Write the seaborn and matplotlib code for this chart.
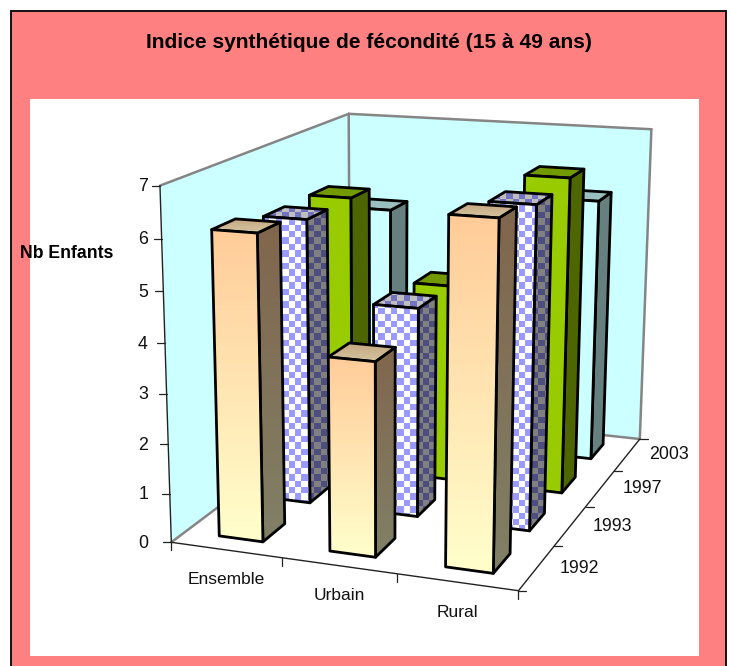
import numpy as np
import matplotlib
matplotlib.use("Agg")
import matplotlib.pyplot as plt
from matplotlib.patches import Polygon
import seaborn as sns

CATEGORIES = ["Ensemble", "Urbain", "Rural"]
YEARS = ["1992", "1993", "1997", "2003"]
VAL_1992 = [6.1, 3.85, 6.7]
VAL_1993 = [5.9, 4.3, 6.5]
VAL_1997 = [5.9, 4.2, 6.6]
VAL_2003 = [5.2, 3.7, 5.7]
Z_TICKS = [0, 1, 2, 3, 4, 5, 6, 7]

W, H = 730, 666
BAR_X = (0.31, 0.71)
BAR_Y = (0.27, 0.72)

# scene point -> pixel pairs used to fit the camera
CALIB = [
    ((0, 0, 0), (172, 543)), ((1, 0, 0), (282, 558)), ((2, 0, 0), (397, 574)), ((3, 0, 0), (518, 591)),
    ((3, 1, 0), (553, 547)), ((3, 2, 0), (586, 506)), ((3, 3, 0), (614.5, 471)), ((3, 4, 0), (641, 438)),
    ((0, 4, 0), (348, 408)), ((0, 4, 7), (350, 114)), ((3, 4, 7), (651, 130)),
    ((0, 0, 1), (171, 493)), ((0, 0, 2), (169, 444)), ((0, 0, 3), (167, 394)), ((0, 0, 4), (165, 343)),
    ((0, 0, 5), (163, 292)), ((0, 0, 6), (161, 238)), ((0, 0, 7), (159, 185)),
]


def fit_camera(calib):
    rows, rhs = [], []
    for (x, y, z), (u, v) in calib:
        rows.append([x, y, z, 1, 0, 0, 0, 0, -u*x, -u*y, -u*z]); rhs.append(u)
        rows.append([0, 0, 0, 0, x, y, z, 1, -v*x, -v*y, -v*z]); rhs.append(v)
    p = np.linalg.lstsq(np.array(rows, float), np.array(rhs, float), rcond=None)[0]
    return np.append(p, 1).reshape(3, 4)


CAM = fit_camera(CALIB)


def proj(x, y, z):
    h = CAM @ np.array([x, y, z, 1.0])
    return h[0]/h[2], h[1]/h[2]


sns.set_theme(style="white")
plt.rcParams["font.family"] = ["Liberation Sans", "DejaVu Sans"]

fig = plt.figure(figsize=(W/100, H/100), dpi=100, facecolor="white")
ax = fig.add_axes([0, 0, 1, 1])
ax.set_axis_off()
ax.set_xlim(0, W)
ax.set_ylim(H, 0)

z_order = [10]


def next_z():
    z_order[0] += 1
    return z_order[0]


def gradient(c_top, c_bottom):
    return np.array(sns.blend_palette([c_top, c_bottom], n_colors=64))[:, None, :]


def checker(c1, c2, cell=6.4):
    yy, xx = np.mgrid[0:H, 0:W]
    mask = ((xx // cell + yy // cell) % 2 == 0)[..., None]
    a = np.array(matplotlib.colors.to_rgb(c1))
    b = np.array(matplotlib.colors.to_rgb(c2))
    return np.where(mask, a, b)


def face(pts, fill):
    """Paint a polygon with a flat colour, a vertical gradient or the checker, then outline it."""
    pts = np.array(pts)
    zo = next_z()
    if isinstance(fill, str):
        ax.add_patch(Polygon(pts, closed=True, facecolor=fill, edgecolor="none", zorder=zo))
    else:
        if fill.shape[0] == H:
            extent = (0, W, H, 0)
        else:
            extent = (pts[:, 0].min(), pts[:, 0].max(), pts[:, 1].max(), pts[:, 1].min())
        im = ax.imshow(fill, extent=extent, origin="upper", aspect="auto",
                       interpolation="nearest" if fill.shape[0] == H else "bilinear", zorder=zo)
        clip = Polygon(pts, closed=True, transform=ax.transData)
        im.set_clip_path(clip)
    ax.add_patch(Polygon(pts, closed=True, facecolor="none", edgecolor="black",
                         linewidth=2.0, joinstyle="round", zorder=next_z()))


STYLES = {
    "1992": dict(front=gradient("#FFCC99", "#FFFFCC"), side=gradient("#80664D", "#808066"),
                 top=gradient("#C6A67F", "#D3C6A2")),
    "1993": dict(front=checker("#FFFFFF", "#9999FF"), side=checker("#808080", "#4D4D80"),
                 top=checker("#BFBFBF", "#7373BF")),
    "1997": dict(front="#99CC00", side="#4D6600", top="#739900"),
    "2003": dict(front="#CCFFFF", side="#668080", top="#99BFBF"),
}
SERIES = [VAL_1992, VAL_1993, VAL_1997, VAL_2003]

# frame and plot background
ax.add_patch(Polygon([(11, H+5), (11, 11), (726, 11), (726, H+5)], closed=True,
                     facecolor="#FF8080", edgecolor="#111111", linewidth=1.4, zorder=1))
ax.add_patch(Polygon([(30, 99), (699, 99), (699, 656), (30, 656)], closed=True,
                     facecolor="white", edgecolor="none", zorder=2))

# walls and floor
zmax = Z_TICKS[-1]
nx, ny = len(CATEGORIES), len(YEARS)
ax.add_patch(Polygon([proj(0, 0, 0), proj(0, ny, 0), proj(0, ny, zmax), proj(0, 0, zmax)], closed=True,
                     facecolor="#CCFFFF", edgecolor="none", zorder=3))
ax.add_patch(Polygon([proj(0, ny, 0), proj(nx, ny, 0), proj(nx, ny, zmax), proj(0, ny, zmax)], closed=True,
                     facecolor="#CCFFFF", edgecolor="none", zorder=3))
for a, b in [((0, 0, zmax), (0, ny, zmax)), ((0, ny, zmax), (nx, ny, zmax)), ((0, ny, 0), (0, ny, zmax)),
             ((nx, ny, 0), (nx, ny, zmax)), ((0, 0, 0), (0, ny, 0)), ((0, ny, 0), (nx, ny, 0))]:
    pa, pb = proj(*a), proj(*b)
    ax.plot([pa[0], pb[0]], [pa[1], pb[1]], color="#858585", lw=1.8, zorder=4, solid_capstyle="round")

# front axes
for a, b in [((0, 0, 0), (0, 0, zmax)), ((0, 0, 0), (nx, 0, 0)), ((nx, 0, 0), (nx, ny, 0))]:
    pa, pb = proj(*a), proj(*b)
    ax.plot([pa[0], pb[0]], [pa[1], pb[1]], color="#222222", lw=1.0, zorder=5)

for z in Z_TICKS:
    px, py = proj(0, 0, z)
    ax.plot([px-8, px], [py, py], color="#222222", lw=0.9, zorder=5)
    ax.text(148, py+1, str(z), ha="right", va="center", fontsize=12.8, color="#111111", zorder=5)
for i in range(nx+1):
    px, py = proj(i, 0, 0)
    ax.plot([px, px], [py, py+8], color="#222222", lw=0.9, zorder=5)
for j in range(ny+1):
    px, py = proj(nx, j, 0)
    ax.plot([px, px+8], [py, py], color="#222222", lw=0.9, zorder=5)

# bars, back row first
for j in reversed(range(ny)):
    style = STYLES[YEARS[j]]
    for i in range(nx):
        val = SERIES[j][i]
        x0, x1 = i+BAR_X[0], i+BAR_X[1]
        y0, y1 = j+BAR_Y[0], j+BAR_Y[1]
        face([proj(x1, y0, 0), proj(x1, y1, 0), proj(x1, y1, val), proj(x1, y0, val)], style["side"])
        face([proj(x0, y1, val), proj(x1, y1, val), proj(x1, y0, val), proj(x0, y0, val)], style["top"])
        face([proj(x0, y0, 0), proj(x1, y0, 0), proj(x1, y0, val), proj(x0, y0, val)], style["front"])

# texts
ax.text(369, 42.5, "Indice synthétique de fécondité (15 à 49 ans)", ha="center", va="center",
        fontsize=15.1, fontweight="bold", color="black", zorder=200)
ax.text(67, 254, "Nb Enfants", ha="center", va="center", fontsize=12.7, fontweight="bold",
        color="black", zorder=200)
for label, pos in zip(CATEGORIES, [(226, 579.5), (339, 595.5), (457, 612.5)]):
    ax.text(pos[0], pos[1], label, ha="center", va="center", fontsize=12.5, color="#111111", zorder=200)
for label, pos in zip(YEARS, [(579, 568.5), (612, 526.5), (642, 488.5), (669, 454.5)]):
    ax.text(pos[0], pos[1], label, ha="center", va="center", fontsize=12.8, color="#111111", zorder=200)

ax.set_xlim(0, W)
ax.set_ylim(H, 0)
fig.savefig("out.png", dpi=100)
plt.close(fig)
